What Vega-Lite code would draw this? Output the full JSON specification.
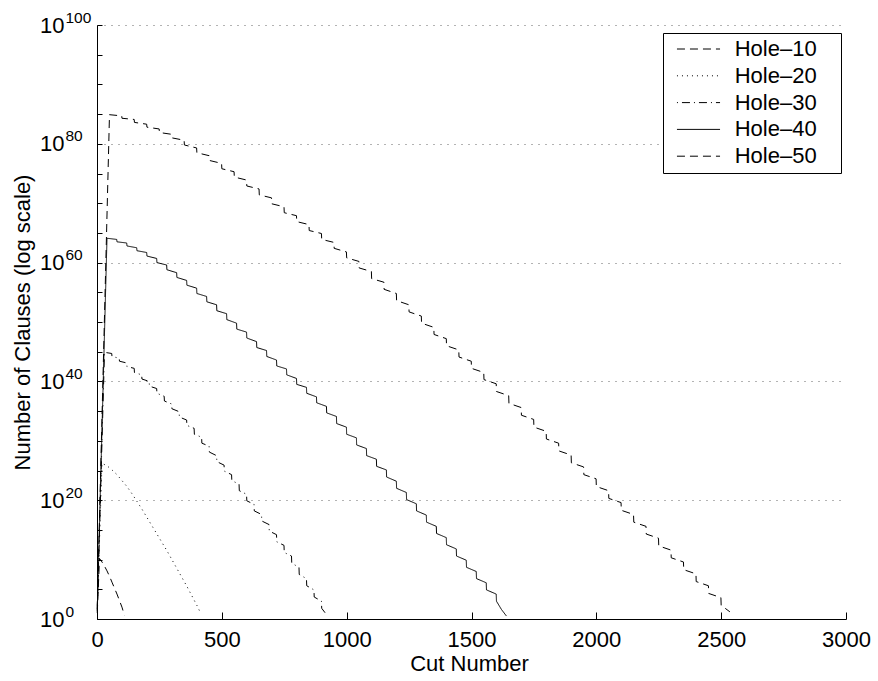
{
 "$schema": "https://vega.github.io/schema/vega-lite/v6.json",
 "width": 749,
 "height": 594,
 "autosize": "none",
 "padding": {"left": 97, "top": 25, "right": 32, "bottom": 62},
 "background": "white",
 "config": {"view": {"stroke": null}, "font": "Liberation Sans"},
 "data": {"values": [
  {"series":"Hole–10","cut":1,"clauses":10},{"series":"Hole–10","cut":10,"clauses":1.58e10},{"series":"Hole–10","cut":20,"clauses":3.98e9},{"series":"Hole–10","cut":30,"clauses":7.94e8},{"series":"Hole–10","cut":40,"clauses":1.26e8},{"series":"Hole–10","cut":50,"clauses":1.58e7},{"series":"Hole–10","cut":60,"clauses":1.58e6},{"series":"Hole–10","cut":70,"clauses":1.58e5},{"series":"Hole–10","cut":80,"clauses":1.58e4},{"series":"Hole–10","cut":90,"clauses":1259},{"series":"Hole–10","cut":100,"clauses":100},{"series":"Hole–10","cut":110,"clauses":4},

  {"series":"Hole–20","cut":1,"clauses":20},{"series":"Hole–20","cut":20,"clauses":1.58e26},{"series":"Hole–20","cut":40,"clauses":6.31e25},{"series":"Hole–20","cut":60,"clauses":1.26e25},{"series":"Hole–20","cut":80,"clauses":2e24},{"series":"Hole–20","cut":100,"clauses":2e23},{"series":"Hole–20","cut":120,"clauses":2e22},{"series":"Hole–20","cut":140,"clauses":1.26e21},{"series":"Hole–20","cut":160,"clauses":6.31e19},{"series":"Hole–20","cut":180,"clauses":3.16e18},{"series":"Hole–20","cut":200,"clauses":1.26e17},{"series":"Hole–20","cut":220,"clauses":5.01e15},{"series":"Hole–20","cut":240,"clauses":2e14},{"series":"Hole–20","cut":260,"clauses":7.94e12},{"series":"Hole–20","cut":280,"clauses":3.16e11},{"series":"Hole–20","cut":300,"clauses":1e10},{"series":"Hole–20","cut":320,"clauses":3.16e8},{"series":"Hole–20","cut":340,"clauses":1e7},{"series":"Hole–20","cut":360,"clauses":3.16e5},{"series":"Hole–20","cut":380,"clauses":7943},{"series":"Hole–20","cut":400,"clauses":200},{"series":"Hole–20","cut":415,"clauses":10},

  {"series":"Hole–30","cut":1,"clauses":30},{"series":"Hole–30","cut":30,"clauses":7.94e44},{"series":"Hole–30","cut":59,"clauses":5.01e44},{"series":"Hole–30","cut":60,"clauses":1.58e44},{"series":"Hole–30","cut":89,"clauses":7.94e43},{"series":"Hole–30","cut":90,"clauses":2.51e43},{"series":"Hole–30","cut":119,"clauses":1.26e43},{"series":"Hole–30","cut":120,"clauses":3.16e42},{"series":"Hole–30","cut":149,"clauses":1.58e42},{"series":"Hole–30","cut":150,"clauses":3.16e41},{"series":"Hole–30","cut":179,"clauses":1.26e41},{"series":"Hole–30","cut":180,"clauses":2.51e40},{"series":"Hole–30","cut":209,"clauses":1e40},{"series":"Hole–30","cut":210,"clauses":1.58e39},{"series":"Hole–30","cut":239,"clauses":6.31e38},{"series":"Hole–30","cut":240,"clauses":1e38},{"series":"Hole–30","cut":269,"clauses":3.16e37},{"series":"Hole–30","cut":270,"clauses":5.01e36},{"series":"Hole–30","cut":299,"clauses":1.58e36},{"series":"Hole–30","cut":300,"clauses":2.51e35},{"series":"Hole–30","cut":329,"clauses":7.94e34},{"series":"Hole–30","cut":330,"clauses":1e34},{"series":"Hole–30","cut":359,"clauses":3.16e33},{"series":"Hole–30","cut":360,"clauses":3.98e32},{"series":"Hole–30","cut":389,"clauses":1.26e32},{"series":"Hole–30","cut":390,"clauses":1.26e31},{"series":"Hole–30","cut":419,"clauses":3.98e30},{"series":"Hole–30","cut":420,"clauses":3.98e29},{"series":"Hole–30","cut":449,"clauses":1.26e29},{"series":"Hole–30","cut":450,"clauses":1.26e28},{"series":"Hole–30","cut":479,"clauses":3.16e27},{"series":"Hole–30","cut":480,"clauses":3.16e26},{"series":"Hole–30","cut":509,"clauses":7.94e25},{"series":"Hole–30","cut":510,"clauses":7.94e24},{"series":"Hole–30","cut":539,"clauses":2e24},{"series":"Hole–30","cut":540,"clauses":2e23},{"series":"Hole–30","cut":569,"clauses":5.01e22},{"series":"Hole–30","cut":570,"clauses":3.98e21},{"series":"Hole–30","cut":599,"clauses":1e21},{"series":"Hole–30","cut":600,"clauses":7.94e19},{"series":"Hole–30","cut":629,"clauses":2e19},{"series":"Hole–30","cut":630,"clauses":1.58e18},{"series":"Hole–30","cut":659,"clauses":3.98e17},{"series":"Hole–30","cut":660,"clauses":3.16e16},{"series":"Hole–30","cut":689,"clauses":7.94e15},{"series":"Hole–30","cut":690,"clauses":6.31e14},{"series":"Hole–30","cut":719,"clauses":1.58e14},{"series":"Hole–30","cut":720,"clauses":1e13},{"series":"Hole–30","cut":749,"clauses":2.51e12},{"series":"Hole–30","cut":750,"clauses":1.58e11},{"series":"Hole–30","cut":779,"clauses":3.98e10},{"series":"Hole–30","cut":780,"clauses":2.51e9},{"series":"Hole–30","cut":809,"clauses":5.01e8},{"series":"Hole–30","cut":810,"clauses":3.16e7},{"series":"Hole–30","cut":839,"clauses":6.31e6},{"series":"Hole–30","cut":840,"clauses":3.98e5},{"series":"Hole–30","cut":869,"clauses":7.94e4},{"series":"Hole–30","cut":870,"clauses":5012},{"series":"Hole–30","cut":899,"clauses":1000},{"series":"Hole–30","cut":900,"clauses":63},{"series":"Hole–30","cut":920,"clauses":5},

  {"series":"Hole–40","cut":1,"clauses":40},{"series":"Hole–40","cut":40,"clauses":1.26e64},{"series":"Hole–40","cut":79,"clauses":7.94e63},{"series":"Hole–40","cut":80,"clauses":3.16e63},{"series":"Hole–40","cut":119,"clauses":2e63},{"series":"Hole–40","cut":120,"clauses":6.31e62},{"series":"Hole–40","cut":159,"clauses":3.16e62},{"series":"Hole–40","cut":160,"clauses":1e62},{"series":"Hole–40","cut":199,"clauses":5.01e61},{"series":"Hole–40","cut":200,"clauses":1.26e61},{"series":"Hole–40","cut":239,"clauses":5.01e60},{"series":"Hole–40","cut":240,"clauses":1e60},{"series":"Hole–40","cut":279,"clauses":3.98e59},{"series":"Hole–40","cut":280,"clauses":6.31e58},{"series":"Hole–40","cut":319,"clauses":2e58},{"series":"Hole–40","cut":320,"clauses":3.16e57},{"series":"Hole–40","cut":359,"clauses":1e57},{"series":"Hole–40","cut":360,"clauses":1.58e56},{"series":"Hole–40","cut":399,"clauses":5.01e55},{"series":"Hole–40","cut":400,"clauses":6.31e54},{"series":"Hole–40","cut":439,"clauses":2e54},{"series":"Hole–40","cut":440,"clauses":2.51e53},{"series":"Hole–40","cut":479,"clauses":7.94e52},{"series":"Hole–40","cut":480,"clauses":7.94e51},{"series":"Hole–40","cut":519,"clauses":2.51e51},{"series":"Hole–40","cut":520,"clauses":2.51e50},{"series":"Hole–40","cut":559,"clauses":6.31e49},{"series":"Hole–40","cut":560,"clauses":6.31e48},{"series":"Hole–40","cut":599,"clauses":2e48},{"series":"Hole–40","cut":600,"clauses":2e47},{"series":"Hole–40","cut":639,"clauses":5.01e46},{"series":"Hole–40","cut":640,"clauses":5.01e45},{"series":"Hole–40","cut":679,"clauses":1.58e45},{"series":"Hole–40","cut":680,"clauses":1.58e44},{"series":"Hole–40","cut":719,"clauses":3.98e43},{"series":"Hole–40","cut":720,"clauses":3.98e42},{"series":"Hole–40","cut":759,"clauses":1.26e42},{"series":"Hole–40","cut":760,"clauses":1.26e41},{"series":"Hole–40","cut":799,"clauses":3.16e40},{"series":"Hole–40","cut":800,"clauses":3.16e39},{"series":"Hole–40","cut":839,"clauses":1e39},{"series":"Hole–40","cut":840,"clauses":1e38},{"series":"Hole–40","cut":879,"clauses":2.51e37},{"series":"Hole–40","cut":880,"clauses":2.51e36},{"series":"Hole–40","cut":919,"clauses":6.31e35},{"series":"Hole–40","cut":920,"clauses":5.01e34},{"series":"Hole–40","cut":959,"clauses":1.26e34},{"series":"Hole–40","cut":960,"clauses":7.94e32},{"series":"Hole–40","cut":999,"clauses":2e32},{"series":"Hole–40","cut":1000,"clauses":1.26e31},{"series":"Hole–40","cut":1039,"clauses":3.16e30},{"series":"Hole–40","cut":1040,"clauses":2e29},{"series":"Hole–40","cut":1079,"clauses":5.01e28},{"series":"Hole–40","cut":1080,"clauses":3.16e27},{"series":"Hole–40","cut":1119,"clauses":7.94e26},{"series":"Hole–40","cut":1120,"clauses":5.01e25},{"series":"Hole–40","cut":1159,"clauses":1.26e25},{"series":"Hole–40","cut":1160,"clauses":7.94e23},{"series":"Hole–40","cut":1199,"clauses":1.58e23},{"series":"Hole–40","cut":1200,"clauses":1e22},{"series":"Hole–40","cut":1239,"clauses":2e21},{"series":"Hole–40","cut":1240,"clauses":1.26e20},{"series":"Hole–40","cut":1279,"clauses":2.51e19},{"series":"Hole–40","cut":1280,"clauses":1.58e18},{"series":"Hole–40","cut":1319,"clauses":3.16e17},{"series":"Hole–40","cut":1320,"clauses":2e16},{"series":"Hole–40","cut":1359,"clauses":3.98e15},{"series":"Hole–40","cut":1360,"clauses":2.51e14},{"series":"Hole–40","cut":1399,"clauses":5.01e13},{"series":"Hole–40","cut":1400,"clauses":3.16e12},{"series":"Hole–40","cut":1439,"clauses":6.31e11},{"series":"Hole–40","cut":1440,"clauses":3.98e10},{"series":"Hole–40","cut":1479,"clauses":7.94e9},{"series":"Hole–40","cut":1480,"clauses":5.01e8},{"series":"Hole–40","cut":1519,"clauses":1e8},{"series":"Hole–40","cut":1520,"clauses":6.31e6},{"series":"Hole–40","cut":1559,"clauses":1.26e6},{"series":"Hole–40","cut":1560,"clauses":7.94e4},{"series":"Hole–40","cut":1599,"clauses":1.58e4},{"series":"Hole–40","cut":1600,"clauses":1000},{"series":"Hole–40","cut":1620,"clauses":40},{"series":"Hole–40","cut":1640,"clauses":3.16},

  {"series":"Hole–50","cut":1,"clauses":50},{"series":"Hole–50","cut":50,"clauses":7.94e84},{"series":"Hole–50","cut":99,"clauses":5.01e84},{"series":"Hole–50","cut":100,"clauses":2e84},{"series":"Hole–50","cut":149,"clauses":1.26e84},{"series":"Hole–50","cut":150,"clauses":3.98e83},{"series":"Hole–50","cut":199,"clauses":2e83},{"series":"Hole–50","cut":200,"clauses":6.31e82},{"series":"Hole–50","cut":249,"clauses":3.16e82},{"series":"Hole–50","cut":250,"clauses":7.94e81},{"series":"Hole–50","cut":299,"clauses":3.98e81},{"series":"Hole–50","cut":300,"clauses":1e81},{"series":"Hole–50","cut":349,"clauses":3.98e80},{"series":"Hole–50","cut":350,"clauses":6.31e79},{"series":"Hole–50","cut":399,"clauses":2e79},{"series":"Hole–50","cut":400,"clauses":3.16e78},{"series":"Hole–50","cut":449,"clauses":1e78},{"series":"Hole–50","cut":450,"clauses":1.58e77},{"series":"Hole–50","cut":499,"clauses":5.01e76},{"series":"Hole–50","cut":500,"clauses":6.31e75},{"series":"Hole–50","cut":549,"clauses":2e75},{"series":"Hole–50","cut":550,"clauses":2.51e74},{"series":"Hole–50","cut":599,"clauses":7.94e73},{"series":"Hole–50","cut":600,"clauses":7.94e72},{"series":"Hole–50","cut":649,"clauses":2.51e72},{"series":"Hole–50","cut":650,"clauses":2.51e71},{"series":"Hole–50","cut":699,"clauses":7.94e70},{"series":"Hole–50","cut":700,"clauses":7.94e69},{"series":"Hole–50","cut":749,"clauses":2.51e69},{"series":"Hole–50","cut":750,"clauses":2.51e68},{"series":"Hole–50","cut":799,"clauses":7.94e67},{"series":"Hole–50","cut":800,"clauses":7.94e66},{"series":"Hole–50","cut":849,"clauses":2.51e66},{"series":"Hole–50","cut":850,"clauses":2.51e65},{"series":"Hole–50","cut":899,"clauses":7.94e64},{"series":"Hole–50","cut":900,"clauses":7.94e63},{"series":"Hole–50","cut":949,"clauses":2.51e63},{"series":"Hole–50","cut":950,"clauses":2.51e62},{"series":"Hole–50","cut":999,"clauses":6.31e61},{"series":"Hole–50","cut":1000,"clauses":6.31e60},{"series":"Hole–50","cut":1049,"clauses":1.58e60},{"series":"Hole–50","cut":1050,"clauses":1.26e59},{"series":"Hole–50","cut":1099,"clauses":3.16e58},{"series":"Hole–50","cut":1100,"clauses":2e57},{"series":"Hole–50","cut":1149,"clauses":5.01e56},{"series":"Hole–50","cut":1150,"clauses":3.16e55},{"series":"Hole–50","cut":1199,"clauses":6.31e54},{"series":"Hole–50","cut":1200,"clauses":3.98e53},{"series":"Hole–50","cut":1249,"clauses":7.94e52},{"series":"Hole–50","cut":1250,"clauses":5.01e51},{"series":"Hole–50","cut":1299,"clauses":1e51},{"series":"Hole–50","cut":1300,"clauses":6.31e49},{"series":"Hole–50","cut":1349,"clauses":1.26e49},{"series":"Hole–50","cut":1350,"clauses":7.94e47},{"series":"Hole–50","cut":1399,"clauses":1.58e47},{"series":"Hole–50","cut":1400,"clauses":1e46},{"series":"Hole–50","cut":1449,"clauses":2e45},{"series":"Hole–50","cut":1450,"clauses":1.26e44},{"series":"Hole–50","cut":1499,"clauses":2.51e43},{"series":"Hole–50","cut":1500,"clauses":1.58e42},{"series":"Hole–50","cut":1549,"clauses":3.16e41},{"series":"Hole–50","cut":1550,"clauses":2e40},{"series":"Hole–50","cut":1599,"clauses":3.98e39},{"series":"Hole–50","cut":1600,"clauses":2e38},{"series":"Hole–50","cut":1649,"clauses":3.98e37},{"series":"Hole–50","cut":1650,"clauses":2e36},{"series":"Hole–50","cut":1699,"clauses":3.98e35},{"series":"Hole–50","cut":1700,"clauses":2e34},{"series":"Hole–50","cut":1749,"clauses":3.98e33},{"series":"Hole–50","cut":1750,"clauses":2e32},{"series":"Hole–50","cut":1799,"clauses":3.98e31},{"series":"Hole–50","cut":1800,"clauses":2e30},{"series":"Hole–50","cut":1849,"clauses":3.98e29},{"series":"Hole–50","cut":1850,"clauses":2e28},{"series":"Hole–50","cut":1899,"clauses":3.98e27},{"series":"Hole–50","cut":1900,"clauses":2e26},{"series":"Hole–50","cut":1949,"clauses":3.98e25},{"series":"Hole–50","cut":1950,"clauses":2e24},{"series":"Hole–50","cut":1999,"clauses":3.98e23},{"series":"Hole–50","cut":2000,"clauses":2e22},{"series":"Hole–50","cut":2049,"clauses":3.98e21},{"series":"Hole–50","cut":2050,"clauses":2e20},{"series":"Hole–50","cut":2099,"clauses":3.98e19},{"series":"Hole–50","cut":2100,"clauses":2e18},{"series":"Hole–50","cut":2149,"clauses":3.98e17},{"series":"Hole–50","cut":2150,"clauses":2e16},{"series":"Hole–50","cut":2199,"clauses":3.98e15},{"series":"Hole–50","cut":2200,"clauses":2e14},{"series":"Hole–50","cut":2249,"clauses":3.98e13},{"series":"Hole–50","cut":2250,"clauses":2e12},{"series":"Hole–50","cut":2299,"clauses":3.98e11},{"series":"Hole–50","cut":2300,"clauses":2e10},{"series":"Hole–50","cut":2349,"clauses":3.98e9},{"series":"Hole–50","cut":2350,"clauses":2e8},{"series":"Hole–50","cut":2399,"clauses":3.98e7},{"series":"Hole–50","cut":2400,"clauses":2e6},{"series":"Hole–50","cut":2449,"clauses":3.98e5},{"series":"Hole–50","cut":2450,"clauses":2e4},{"series":"Hole–50","cut":2499,"clauses":3981},{"series":"Hole–50","cut":2500,"clauses":200},{"series":"Hole–50","cut":2535,"clauses":16}
 ]},
 "layer": [
  {
   "mark": {"type": "line", "color": "black", "strokeWidth": 1},
   "encoding": {
    "x": {"field": "cut", "type": "quantitative",
     "scale": {"domain": [0, 3000], "nice": false, "zero": false},
     "axis": {"orient": "bottom", "values": [0, 500, 1000, 1500, 2000, 2500, 3000], "format": "d", "grid": false,
      "ticks": false, "domainColor": "black", "labelColor": "black",
      "labelFont": "Liberation Sans", "labelFontSize": 22, "labelPadding": 10, "labelFlush": false, "labelOverlap": false,
      "title": "Cut Number", "titleFont": "Liberation Sans", "titleFontSize": 22, "titleFontWeight": "normal",
      "titleColor": "black", "titleBaseline": "alphabetic", "titleY": 51, "titleX": 372}},
    "y": {"field": "clauses", "type": "quantitative",
     "scale": {"type": "log", "domain": [1, 1e100], "nice": false},
     "axis": {"orient": "left",
      "values": [1,1e5,1e10,1e15,1e20,1e25,1e30,1e35,1e40,1e45,1e50,1e55,1e60,1e65,1e70,1e75,1e80,1e85,1e90,1e95,1e100],
      "labelExpr": "round(log(datum.value)/LN10) % 20 == 0 ? '10' : ''",
      "labelFont": "Liberation Sans", "labelFontSize": 22, "labelColor": "black", "labelPadding": 33,
      "labelOverlap": false, "labelFlush": false,
      "ticks": false, "domainColor": "black",
      "grid": true, "gridColor": "#666666", "gridDash": [1, 6],
      "gridOpacity": {"condition": {"test": "round(log(datum.value)/LN10) % 20 == 0", "value": 1}, "value": 0},
      "title": "Number of Clauses (log scale)", "titleFont": "Liberation Sans", "titleFontSize": 22,
      "titleFontWeight": "normal", "titleColor": "black", "titleAngle": -90, "titleAlign": "center",
      "titleBaseline": "alphabetic", "titleX": -68, "titleY": 297}},
    "strokeDash": {"field": "series", "type": "nominal",
     "scale": {"domain": ["Hole–10", "Hole–20", "Hole–30", "Hole–40", "Hole–50"],
      "range": [[8, 5], [1, 4], [1, 4, 8, 4], [1, 0], [8, 5]]},
     "legend": {"orient": "none", "legendX": 566, "legendY": 8, "title": null,
      "symbolType": "M-4,0H4M25,0", "symbolSize": 116, "symbolStrokeColor": "black", "symbolStrokeWidth": 1,
      "symbolOffset": 19.5, "labelOffset": 25.2, "labelFont": "Liberation Sans", "labelFontSize": 22,
      "labelColor": "black", "padding": 5, "rowPadding": 4.8, "strokeColor": "black", "fillColor": "white"}}
   }
  },
  {
   "mark": {"type": "point", "opacity": 0},
   "encoding": {
    "x": {"field": "cut", "type": "quantitative",
     "scale": {"domain": [0, 3000], "nice": false, "zero": false},
     "axis": {"orient": "top", "offset": -594, "values": [0, 500, 1000, 1500, 2000, 2500, 3000],
      "ticks": true, "tickSize": 7, "tickWidth": 1, "tickColor": "black", "labels": false, "domain": false, "grid": false, "title": null}},
    "y": {"field": "clauses", "type": "quantitative",
     "scale": {"type": "log", "domain": [1, 1e100], "nice": false},
     "axis": {"orient": "left", "values": [1,1e20,1e40,1e60,1e80,1e100],
      "labelExpr": "'' + round(log(datum.value)/LN10)",
      "labelFont": "Liberation Sans", "labelFontSize": 15.5, "labelColor": "black",
      "labelAlign": "left", "labelPadding": 32, "labelOffset": -8,
      "labelOverlap": false, "labelFlush": false,
      "ticks": false, "domain": false, "grid": false, "title": null}}
   }
  },
  {
   "mark": {"type": "point", "opacity": 0},
   "encoding": {
    "y": {"field": "clauses", "type": "quantitative",
     "scale": {"type": "log", "domain": [1, 1e100], "nice": false},
     "axis": {"orient": "right", "offset": -749,
      "values": [1,1e5,1e10,1e15,1e20,1e25,1e30,1e35,1e40,1e45,1e50,1e55,1e60,1e65,1e70,1e75,1e80,1e85,1e90,1e95,1e100],
      "ticks": true, "tickSize": 5, "tickWidth": 1, "tickColor": "black", "labels": false, "domain": false, "grid": false, "title": null}}
   }
  }
 ],
 "resolve": {"axis": {"x": "independent", "y": "independent"}}
}
